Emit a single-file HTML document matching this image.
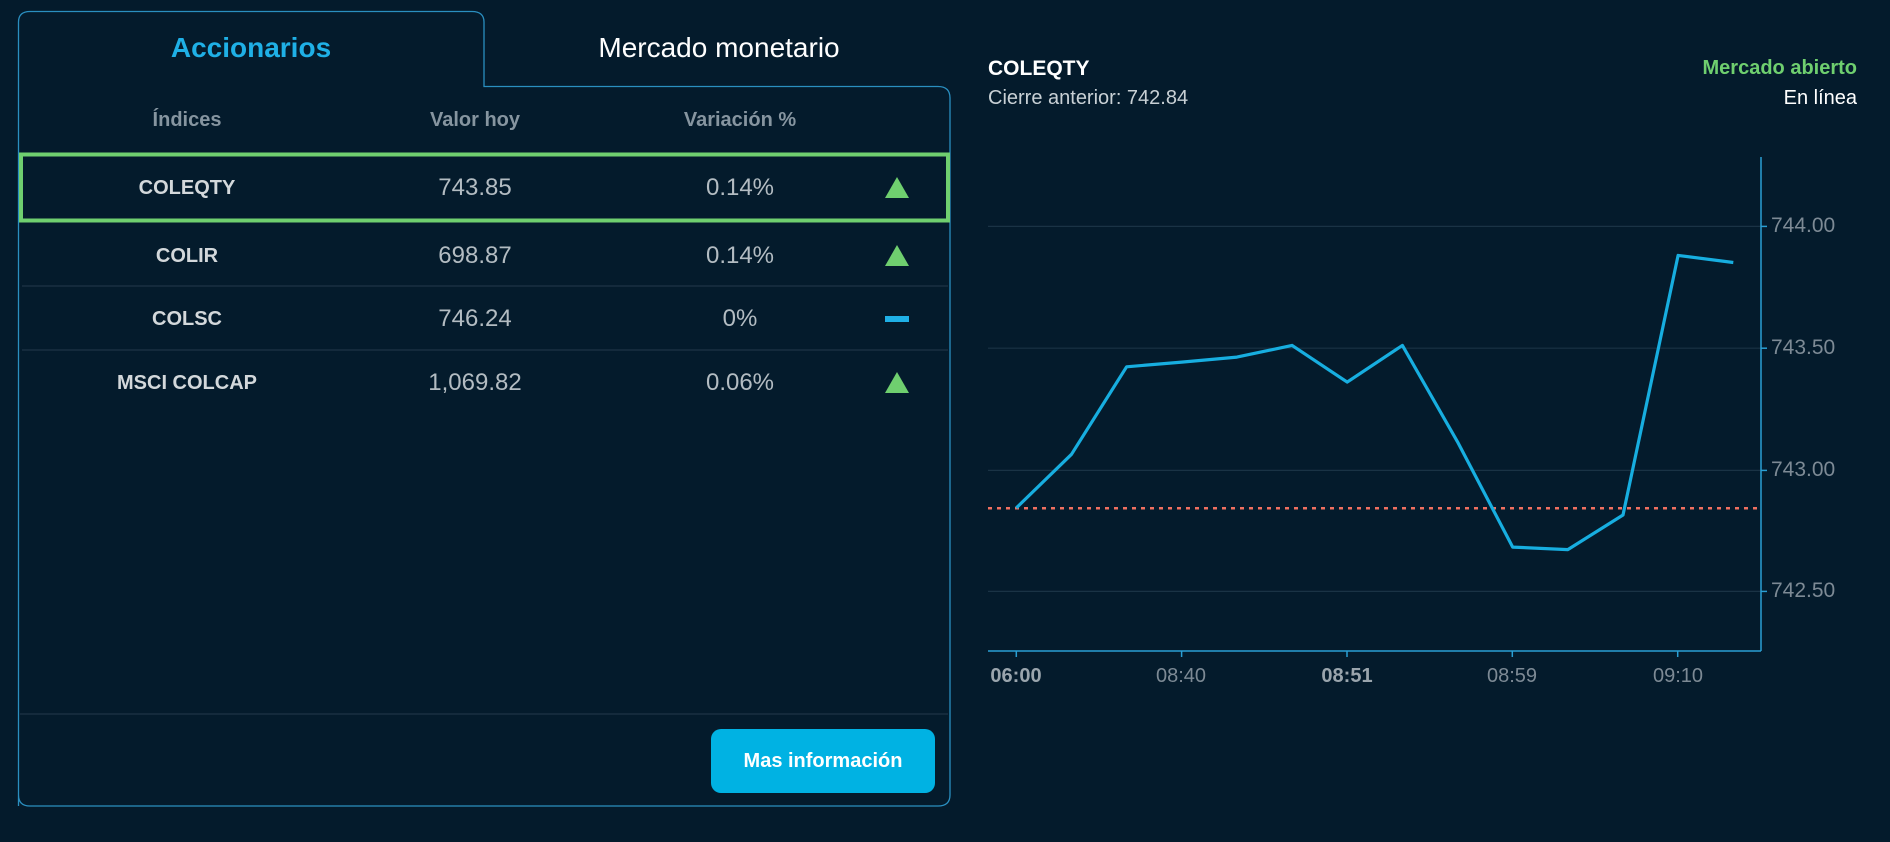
<!DOCTYPE html>
<html><head><meta charset="utf-8"><style>
body{margin:0;width:1890px;height:842px;background:#041b2c;font-family:"Liberation Sans",sans-serif;position:relative;overflow:hidden}
.a{position:absolute}
.c{transform:translateX(-50%);white-space:nowrap}
.h{color:#8695a0;font-weight:bold;font-size:20px;top:109px}
.n{color:#d3d8db;font-weight:bold;font-size:20px}
.v{color:#b3bcc2;font-size:24px}
.tri{width:0;height:0;border-left:12px solid transparent;border-right:12px solid transparent;border-bottom:21px solid #6fcf6f}
.y{font-size:21px;color:#7d8a95}
</style></head><body>
<svg class="a" style="left:0;top:0" width="1890" height="842">
<path d="M18.5 806 V22 Q18.5 11.5 30 11.5 H472 Q484 11.5 484 22 V86.5 H938 Q950 86.5 950 98 V795 Q950 806 938 806 H30 Q18.5 806 18.5 795" fill="none" stroke="#2a8fc0" stroke-width="1.3"/>
<line x1="22" y1="286" x2="948" y2="286" stroke="#1d3445" stroke-width="1.3"/>
<line x1="22" y1="350" x2="948" y2="350" stroke="#1d3445" stroke-width="1.3"/>
<line x1="20" y1="714" x2="948" y2="714" stroke="#1d3445" stroke-width="1.3"/>
<rect x="21" y="154.5" width="927" height="66" fill="none" stroke="#6fcf6f" stroke-width="4"/>
<g stroke="#1a3345" stroke-width="1.2">
<line x1="988" y1="226.4" x2="1761" y2="226.4"/><line x1="988" y1="348.2" x2="1761" y2="348.2"/>
<line x1="988" y1="470.4" x2="1761" y2="470.4"/><line x1="988" y1="591.4" x2="1761" y2="591.4"/></g>
<g stroke="#2a9fd4" stroke-width="1.5">
<line x1="1761" y1="157" x2="1761" y2="651"/><line x1="988" y1="651" x2="1761" y2="651"/>
<line x1="1761" y1="226.4" x2="1767" y2="226.4"/><line x1="1761" y1="348.2" x2="1767" y2="348.2"/>
<line x1="1761" y1="470.4" x2="1767" y2="470.4"/><line x1="1761" y1="591.4" x2="1767" y2="591.4"/>
<line x1="1016.3" y1="651" x2="1016.3" y2="657"/><line x1="1181.6" y1="651" x2="1181.6" y2="657"/>
<line x1="1347" y1="651" x2="1347" y2="657"/><line x1="1512.3" y1="651" x2="1512.3" y2="657"/>
<line x1="1677.7" y1="651" x2="1677.7" y2="657"/></g>
<line x1="988" y1="508.3" x2="1761" y2="508.3" stroke="#f07060" stroke-width="2.5" stroke-dasharray="4,5"/>
<polyline fill="none" stroke="#17aee0" stroke-width="3.2" stroke-linejoin="round" points="1016.3,507.9 1071.5,454.3 1126.6,366.8 1181.8,362.1 1236.9,357.1 1292.1,345.4 1347.2,382.1 1402.4,345.4 1457.5,441.8 1512.7,547.1 1567.8,549.6 1623,515 1678.1,255.4 1733.3,262.5"/>
</svg>
<div class="a c" style="left:251px;top:32px;font-size:28px;font-weight:bold;color:#1fb0e6">Accionarios</div>
<div class="a c" style="left:719px;top:32px;font-size:28px;color:#fff">Mercado monetario</div>
<div class="a c h" style="left:187px">Índices</div>
<div class="a c h" style="left:475px">Valor hoy</div>
<div class="a c h" style="left:740px">Variación %</div>
<div class="a c n" style="left:187px;top:177px">COLEQTY</div>
<div class="a c v" style="left:475px;top:174px">743.85</div>
<div class="a c v" style="left:740px;top:174px">0.14%</div>
<div class="a tri" style="left:885px;top:177px"></div>
<div class="a c n" style="left:187px;top:245px">COLIR</div>
<div class="a c v" style="left:475px;top:242px">698.87</div>
<div class="a c v" style="left:740px;top:242px">0.14%</div>
<div class="a tri" style="left:885px;top:245px"></div>
<div class="a c n" style="left:187px;top:308px">COLSC</div>
<div class="a c v" style="left:475px;top:305px">746.24</div>
<div class="a c v" style="left:740px;top:305px">0%</div>
<div class="a" style="left:885px;top:316px;width:24px;height:6px;background:#1fb0e6"></div>
<div class="a c n" style="left:187px;top:372px">MSCI COLCAP</div>
<div class="a c v" style="left:475px;top:369px">1,069.82</div>
<div class="a c v" style="left:740px;top:369px">0.06%</div>
<div class="a tri" style="left:885px;top:372px"></div>
<div class="a" style="left:711px;top:729px;width:224px;height:64px;background:#00b2e3;border-radius:10px;color:#fff;font-weight:bold;font-size:20px;line-height:64px;text-align:center">Mas información</div>
<div class="a" style="left:988px;top:57px;font-size:21px;font-weight:bold;color:#fff">COLEQTY</div>
<div class="a" style="left:988px;top:87px;font-size:20px;color:#c8d0d5">Cierre anterior: 742.84</div>
<div class="a" style="right:33px;top:57px;font-size:20px;font-weight:bold;color:#6fcf6f">Mercado abierto</div>
<div class="a" style="right:33px;top:87px;font-size:20px;color:#fff">En línea</div>
<div class="a y" style="left:1771px;top:214px">744.00</div>
<div class="a y" style="left:1771px;top:336px">743.50</div>
<div class="a y" style="left:1771px;top:458px">743.00</div>
<div class="a y" style="left:1771px;top:579px">742.50</div>
<div class="a c" style="left:1016px;top:665px;font-size:20px;color:#9aa5ad;font-weight:bold">06:00</div>
<div class="a c" style="left:1181px;top:665px;font-size:20px;color:#7d8a95">08:40</div>
<div class="a c" style="left:1347px;top:665px;font-size:20px;color:#9aa5ad;font-weight:bold">08:51</div>
<div class="a c" style="left:1512px;top:665px;font-size:20px;color:#7d8a95">08:59</div>
<div class="a c" style="left:1678px;top:665px;font-size:20px;color:#7d8a95">09:10</div>
</body></html>
